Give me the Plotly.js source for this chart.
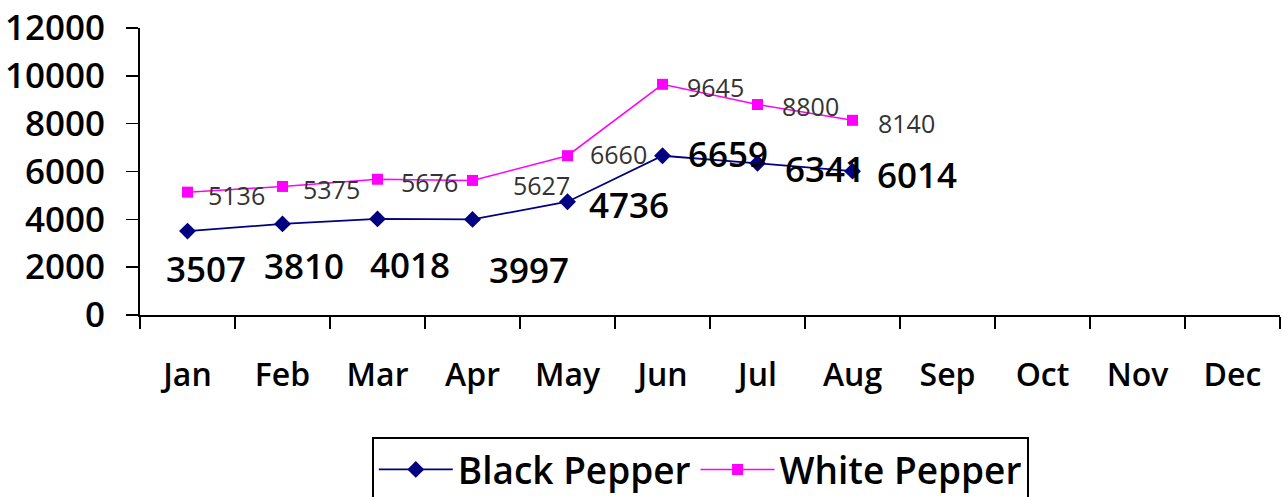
<!DOCTYPE html>
<html><head><meta charset="utf-8">
<script src="https://cdn.plot.ly/plotly-3.0.1.min.js"></script>
<style>html,body{margin:0;padding:0;background:#fff}#chart{width:1282px;height:497px}</style>
</head><body><div id="chart"></div>
<script>
// ---- data ----
const months = ["Jan","Feb","Mar","Apr","May","Jun","Jul","Aug","Sep","Oct","Nov","Dec"];
const blackMonths = ["Jan","Feb","Mar","Apr","May","Jun","Jul","Aug"];
const blackPepper = [3507,3810,4018,3997,4736,6659,6341,6014];
const whitePepper = [5136,5375,5676,5627,6660,9645,8800,8140];
const yTicks = [0,2000,4000,6000,8000,10000,12000];
const yTickText = ["0","2000","4000","6000","8000","10000","12000"];

// ---- label placement (style) ----
const blackLabelShift = [[18,-37],[21,-42],[32,-46],[56,-50],[61,-3],[65,2],[67,-5],[64,-3]];
const whiteLabelShift = [[49,-3],[49,-3],[52,-3],[69,-5],[51,2],[53,-3],[53,-1],[54,-3]];

const FONT = "Open Sans, Liberation Sans, Arial, sans-serif";
const annotations = [];
blackPepper.forEach((v,i)=>{
  annotations.push({x:blackMonths[i], y:v, text:String(v), showarrow:false,
    xshift:blackLabelShift[i][0], yshift:blackLabelShift[i][1],
    font:{family:FONT, size:35, color:"#000", weight:600}});
});
whitePepper.forEach((v,i)=>{
  annotations.push({x:blackMonths[i], y:v, text:String(v), showarrow:false,
    xshift:whiteLabelShift[i][0], yshift:whiteLabelShift[i][1],
    font:{family:FONT, size:25, color:"#333"}});
});

const traces = [
  {x:blackMonths, y:blackPepper, name:"Black Pepper", type:"scatter", mode:"lines+markers",
   line:{color:"#000080", width:1.8}, marker:{symbol:"diamond", size:13, color:"#000080"}},
  {x:blackMonths, y:whitePepper, name:"White Pepper", type:"scatter", mode:"lines+markers",
   line:{color:"#FF00FF", width:1.5}, marker:{symbol:"square", size:11, color:"#FF00FF"}}
];

const layout = {
  width:1282, height:497,
  margin:{l:140, r:2, t:28, b:182},
  paper_bgcolor:"#fff", plot_bgcolor:"#fff",
  showlegend:true,
  font:{family:FONT, color:"#000"},
  xaxis:{type:"category", categoryorder:"array", categoryarray:months, range:[-0.5,11.5],
    tickmode:"array", tickvals:months, ticktext:months,
    showline:true, linecolor:"#000", linewidth:2, showgrid:false, zeroline:false,
    ticks:"outside", ticklen:12, tickwidth:1.5, tickcolor:"#000", tickson:"boundaries",
    ticklabelstandoff:31,
    tickfont:{family:FONT, size:32, color:"#000", weight:600}},
  yaxis:{range:[0,12000], tickmode:"array", tickvals:yTicks, ticktext:yTickText,
    showline:true, linecolor:"#000", linewidth:2, showgrid:false, zeroline:false,
    ticks:"outside", ticklen:12, tickwidth:1.5, tickcolor:"#000",
    ticklabelstandoff:14,
    tickfont:{family:FONT, size:35, color:"#000", weight:600}},
  legend:{orientation:"h", xref:"container", yref:"container", x:0.29, xanchor:"left",
    y:0.121, yanchor:"top",
    bordercolor:"#000", borderwidth:2, bgcolor:"#fff", itemwidth:74,
    font:{family:FONT, size:37, color:"#000", weight:600}},
  annotations:annotations
};
Plotly.newPlot("chart", traces, layout, {displayModeBar:false, staticPlot:true});
</script></body></html>
